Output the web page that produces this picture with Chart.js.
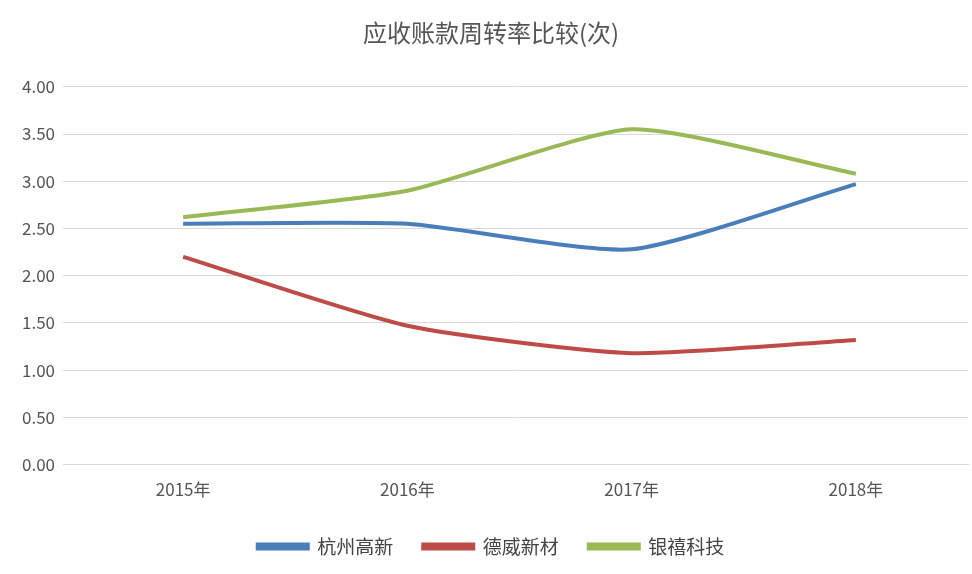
<!DOCTYPE html>
<html><head><meta charset="utf-8">
<script src="https://cdn.jsdelivr.net/npm/chart.js@4"></script>
<style>body{margin:0;background:#fff}#wrap{width:972px;height:574px}</style>
</head><body><div id="wrap"><canvas id="c"></canvas></div>
<script>
const years = ['2015年', '2016年', '2017年', '2018年'];
const hzgx = [2.55, 2.55, 2.28, 2.97];
const dwxc = [2.20, 1.47, 1.18, 1.32];
const yxkj = [2.62, 2.90, 3.55, 3.08];

Chart.defaults.font.family = '"Noto Sans CJK SC", "Noto Sans", sans-serif';
new Chart(document.getElementById('c'), {
  type: 'line',
  data: {
    labels: years,
    datasets: [
      { label: '杭州高新', data: hzgx, borderColor: '#4a7ebb', backgroundColor: '#4a7ebb' },
      { label: '德威新材', data: dwxc, borderColor: '#be4b48', backgroundColor: '#be4b48' },
      { label: '银禧科技', data: yxkj, borderColor: '#98b954', backgroundColor: '#98b954' }
    ].map(d => Object.assign(d, { borderWidth: 4, pointRadius: 0, tension: 0.2, fill: false }))
  },
  options: {
    responsive: true, maintainAspectRatio: false, animation: false,
    layout: { padding: { left: 14, right: 4, top: 18, bottom: 8 } },
    scales: {
      x: { offset: true, grid: { display: false }, border: { color: '#d9d9d9' },
           ticks: { color: '#555', font: { size: 17 }, padding: 7 } },
      y: { min: 0, max: 4, border: { display: false }, grid: { color: '#d9d9d9' },
           ticks: { stepSize: 0.5, color: '#555', font: { size: 17 }, padding: 8, callback: v => v.toFixed(2) } }
    },
    plugins: {
      title: { display: true, text: '应收账款周转率比较(次)', color: '#555', font: { size: 24, weight: 'normal' }, padding: { bottom: 40 } },
      legend: { position: 'bottom', labels: { color: '#444', font: { size: 19 }, boxWidth: 50, boxHeight: 4, padding: 30 } }
    }
  }
});
</script></body></html>
